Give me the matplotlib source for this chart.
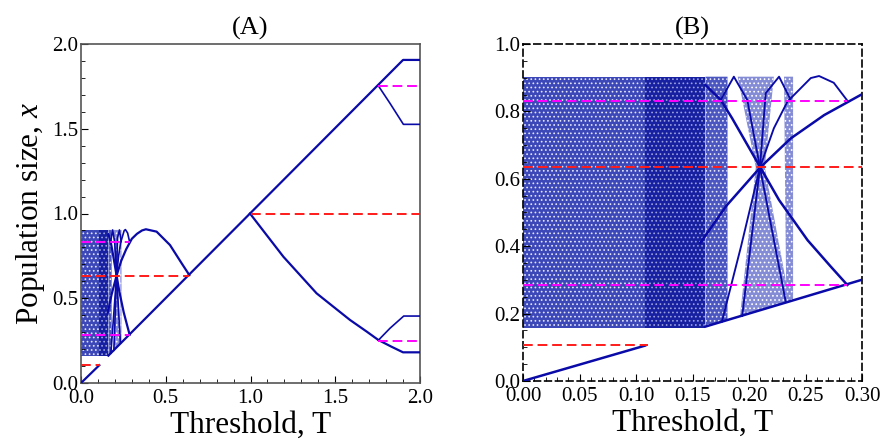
import matplotlib
matplotlib.use('Agg')
import matplotlib.pyplot as plt
from matplotlib.ticker import MultipleLocator, FormatStrFormatter

plt.rcParams['font.family'] = ['Liberation Serif', 'DejaVu Serif']
plt.rcParams['mathtext.fontset'] = 'custom'
plt.rcParams['mathtext.rm'] = 'Liberation Serif'
plt.rcParams['mathtext.it'] = 'Liberation Serif:italic'
plt.rcParams['hatch.linewidth'] = 0.7

# chaotic bands (T, x polygon corners)
chaos_light_T = [0.0, 0.108, 0.108, 0.0]
chaos_light_x = [0.158, 0.158, 0.903, 0.903]
chaos_dense_T = [0.108, 0.1615, 0.1615, 0.108]
chaos_dense_x = [0.158, 0.158, 0.903, 0.903]
win1_T = [0.1615, 0.181, 0.181, 0.1615]
win1_x = [0.1615, 0.181, 0.903, 0.903]
win2_T = [0.190, 0.222, 0.214, 0.236, 0.192, 0.206]
win2_x = [0.903, 0.903, 0.634, 0.236, 0.192, 0.634]
win3_T = [0.231, 0.239, 0.239, 0.233]
win3_x = [0.903, 0.903, 0.240, 0.235]

# stable branches
diag_low_T = [0.0, 0.108]
diag_low_x = [0.0, 0.105]
diag_T = [0.1615, 1.90, 2.0]
diag_x = [0.1615, 1.906, 1.906]
f1_T = [0.157, 0.18, 0.21, 0.237, 0.2665, 0.30, 0.33, 0.36, 0.383, 0.446, 0.525, 0.594, 0.639]
f1_x = [0.41, 0.52, 0.634, 0.72, 0.789, 0.851, 0.88, 0.90, 0.907, 0.893, 0.814, 0.706, 0.637]
f2_T = [0.1615, 0.175, 0.185, 0.21, 0.2266, 0.2518, 0.2725, 0.287]
f2_x = [0.878, 0.834, 0.78, 0.634, 0.537, 0.418, 0.339, 0.285]
f3_T = [0.176, 0.193, 0.2097, 0.222, 0.234, 0.2547, 0.262, 0.275, 0.287]
f3_x = [0.176, 0.40, 0.634, 0.75, 0.829, 0.899, 0.905, 0.885, 0.832]
f4_T = [0.194, 0.2097, 0.2148, 0.2266, 0.237]
f4_x = [0.193, 0.634, 0.854, 0.903, 0.834]
f5_T = [0.2325, 0.2097, 0.1985, 0.1866, 0.175]
f5_x = [0.235, 0.634, 0.834, 0.903, 0.834]
desc_T = [0.997, 1.095, 1.194, 1.292, 1.39, 1.489, 1.587, 1.686, 1.754, 1.83, 1.90, 2.0]
desc_x = [1.0, 0.873, 0.745, 0.637, 0.529, 0.45, 0.372, 0.303, 0.254, 0.215, 0.181, 0.181]
br_hi_T = [1.754, 1.823, 1.902, 2.0]
br_hi_x = [1.754, 1.65, 1.526, 1.526]
br_lo_T = [1.754, 1.823, 1.904, 2.0]
br_lo_x = [0.252, 0.323, 0.395, 0.395]

# unstable states (level, T start, T end)
red_lines = [(0.106, 0.0, 0.1107), (0.634, 0.0, 0.639), (1.0, 1.0, 2.0)]
magenta_lines = [(0.832, 0.0, 0.287), (0.284, 0.0, 0.287), (1.754, 1.754, 2.0), (0.25, 1.754, 2.0)]

blue = '#0a0aa8'

fig = plt.figure(figsize=(8.8, 4.45), dpi=100)
axA = fig.add_axes([81 / 880, 62 / 445, 339 / 880, 339 / 445])
axB = fig.add_axes([523 / 880, 64 / 445, 339 / 880, 337 / 445])


def draw(ax, lw_main):
    ax.fill(chaos_light_T, chaos_light_x, facecolor='#3d48b8', edgecolor='#e4e6f8', hatch='....', lw=0, zorder=1)
    ax.fill(chaos_dense_T, chaos_dense_x, facecolor='#1820a2', edgecolor='#9aa0dc', hatch='....', lw=0, zorder=1)
    ax.fill(win1_T, win1_x, facecolor='#4c56c0', edgecolor='#e4e6f8', hatch='....', lw=0, zorder=1)
    for tt, xx in [(win2_T, win2_x), (win3_T, win3_x)]:
        ax.fill(tt, xx, facecolor='#858cd6', edgecolor='white', hatch='....', lw=0, zorder=1)
    for tt, xx in [(diag_low_T, diag_low_x), (diag_T, diag_x), (f1_T, f1_x), (f2_T, f2_x), (desc_T, desc_x)]:
        ax.plot(tt, xx, color=blue, lw=lw_main, zorder=3)
    for tt, xx in [(f3_T, f3_x), (f4_T, f4_x), (f5_T, f5_x), (br_hi_T, br_hi_x), (br_lo_T, br_lo_x)]:
        ax.plot(tt, xx, color=blue, lw=lw_main * 0.75, zorder=3)
    for lvl, t0, t1 in red_lines:
        ax.plot([t0, t1], [lvl, lvl], color='#ff1a1a', lw=1.4, dashes=(5, 2.5), zorder=4)
    for lvl, t0, t1 in magenta_lines:
        ax.plot([t0, t1], [lvl, lvl], color='#ff00ff', lw=1.4, dashes=(5, 2.5), zorder=4)
    ax.tick_params(which='both', direction='in', top=False, right=False, labelsize=15)
    ax.tick_params(axis='x', pad=4)
    ax.tick_params(axis='y', pad=2)
    ax.tick_params(which='major', length=5)
    ax.tick_params(which='minor', length=3)
    ax.set_xlabel('Threshold, T', fontsize=22.5, labelpad=2)


draw(axA, 1.6)
axA.set_xlim(0, 2)
axA.set_ylim(0, 2)
axA.xaxis.set_major_locator(MultipleLocator(0.5))
axA.xaxis.set_minor_locator(MultipleLocator(0.1))
axA.yaxis.set_major_locator(MultipleLocator(0.5))
axA.yaxis.set_minor_locator(MultipleLocator(0.1))
axA.xaxis.set_major_formatter(FormatStrFormatter('%.1f'))
axA.yaxis.set_major_formatter(FormatStrFormatter('%.1f'))
for sp in axA.spines.values():
    sp.set_color('#555555')
    sp.set_linewidth(1.2)
axA.set_ylabel(r'Population size, $x$', fontsize=22.5, labelpad=4)
axA.set_title('(A)', fontsize=19, pad=7)

draw(axB, 1.8)
axB.set_xlim(0, 0.3)
axB.set_ylim(0, 1)
axB.xaxis.set_major_locator(MultipleLocator(0.05))
axB.xaxis.set_minor_locator(MultipleLocator(0.01))
axB.yaxis.set_major_locator(MultipleLocator(0.2))
axB.yaxis.set_minor_locator(MultipleLocator(0.05))
axB.xaxis.set_major_formatter(FormatStrFormatter('%.2f'))
axB.yaxis.set_major_formatter(FormatStrFormatter('%.1f'))
for sp in axB.spines.values():
    sp.set_color('black')
    sp.set_linewidth(1.2)
    sp.set_linestyle((0, (4, 2.5)))
axB.set_title('(B)', fontsize=19, pad=7)

fig.savefig('out.png', dpi=100)
